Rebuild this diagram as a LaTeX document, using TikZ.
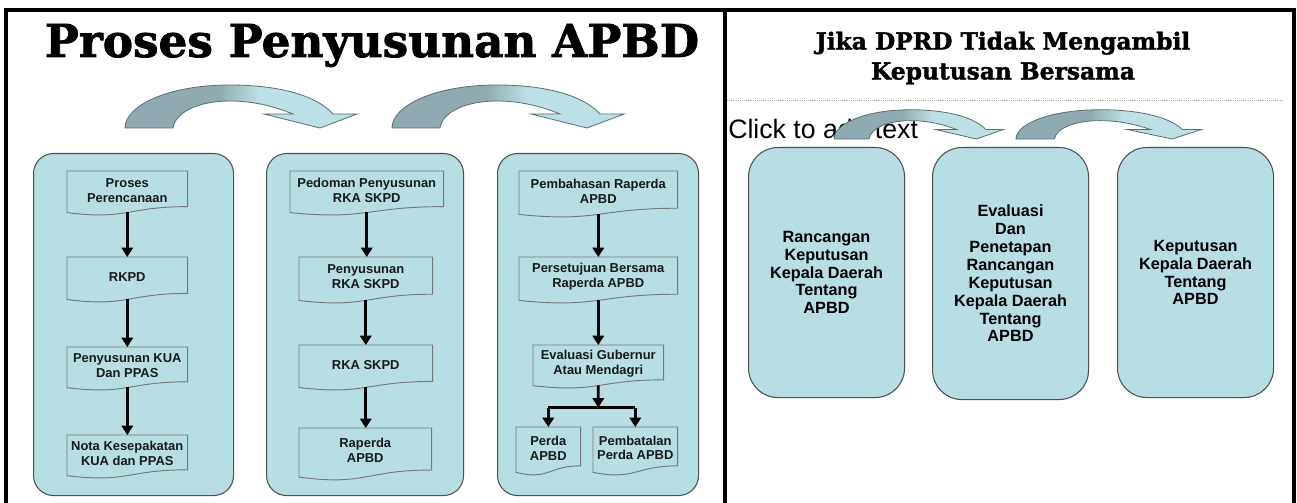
\documentclass[tikz,border=0pt]{standalone}
\usepackage{fontspec}
\usetikzlibrary{arrows.meta,calc}
\newfontfamily\lsans{Liberation Sans}
\newfontfamily\dserif{DejaVu Serif}[FakeBold=1.6]
\definecolor{boxfill}{RGB}{183,222,227}
\definecolor{panelline}{RGB}{80,80,80}
\definecolor{docline}{RGB}{120,120,120}
\definecolor{arrdark}{RGB}{143,170,176}
\definecolor{arrlight}{RGB}{187,224,229}
\definecolor{arrline}{RGB}{90,110,115}
\pgfdeclarehorizontalshading{arrsh}{100bp}{color(0bp)=(arrdark); color(45bp)=(arrdark); color(54bp)=(arrlight); color(100bp)=(arrlight)}
\pgfdeclarelayer{back}
\pgfdeclarelayer{bg}
\pgfsetlayers{back,bg,main}
\tikzset{
  panel/.style={draw=panelline, line width=0.8pt, fill=boxfill, rounded corners=15pt, anchor=north west, inner sep=0pt},
  docbox/.style={inner sep=0pt, anchor=north west},
  docshape/.style={draw=docline, line width=0.7pt, fill=boxfill},
  doctext/.style={font=\lsans\bfseries\fontsize{9.7}{11.2}\selectfont, align=center, inner sep=0pt, text=black!90},
  flow/.style={line width=2.2pt, -{Triangle[width=8.5pt,length=7pt]}},
  rbox/.style={draw=panelline, line width=0.8pt, fill=boxfill, rounded corners=22pt, anchor=north west, align=center, font=\lsans\bfseries\fontsize{12.2}{13.4}\selectfont, inner sep=0pt},
  curv/.style={shading=arrsh, draw=arrline, line width=0.6pt},
  frameline/.style={line width=2.3pt, black, line join=miter}
}
\newcommand\docnode[6]{%
  \pgfmathsetmacro\dw{(#4-#2)*0.75}%
  \pgfmathsetmacro\dh{(#5-#3)*0.75}%
  \node[docbox, minimum width=\dw pt, minimum height=\dh pt] (#1) at (#2,#3) {};
  \node[doctext] (#1t) at ($(#1.north)!0.43!(#1.south)$) {#6};
  \begin{pgfonlayer}{bg}
    \path[docshape] (#1.north west) -- (#1.north east) -- ($(#1.north east)!0.80!(#1.south east)$)
      .. controls ($(#1.north)!0.80!(#1.south)$) and ($(#1.north)!1.107!(#1.south)$) ..
      ($(#1.north west)!0.934!(#1.south west)$) -- cycle;
  \end{pgfonlayer}}
\newcommand\curvarrow[4]{%
  \begin{scope}[shift={(#1,#2)}, xscale=#3, yscale=#4]
    \shade[curv] (0,0) -- (48,0) .. controls (50,-15) and (72,-27) .. (105,-27)
      .. controls (132,-27) and (153,-20) .. (168,-14) -- (139,-14) -- (195,0) -- (232,-14) -- (208,-14)
      .. controls (190,-34) and (150,-43) .. (105,-43) .. controls (42,-43) and (0,-22) .. (0,0) -- cycle;
  \end{scope}}
\begin{document}
\begin{tikzpicture}[x=0.75pt, y=-0.75pt]
\useasboundingbox (0,0) rectangle (1297,503);
\begin{pgfonlayer}{back}
\fill[white] (0,0) rectangle (1297,503);
\end{pgfonlayer}

% ---------- left panel ----------
\node[anchor=base, font=\dserif\bfseries\fontsize{34}{36}\selectfont] (title1) at (372,57) {Proses Penyusunan APBD};

\curvarrow{125}{128}{1}{1}
\curvarrow{392}{128}{1}{1}

\begin{pgfonlayer}{back}
  \node[panel, minimum width=150pt, minimum height=256.5pt] (P1) at (33,153) {};
  \node[panel, minimum width=147.75pt, minimum height=256.5pt] (P2) at (266,153) {};
  \node[panel, minimum width=150.75pt, minimum height=256.5pt] (P3) at (497,153) {};
\end{pgfonlayer}

\docnode{A1}{67}{171}{187}{215}{Proses\\Perencanaan}
\docnode{A2}{67}{257}{187}{302}{RKPD}
\docnode{A3}{67}{347}{187}{390}{Penyusunan KUA\\Dan PPAS}
\docnode{A4}{67}{435}{187}{478}{Nota Kesepakatan\\KUA dan PPAS}

\docnode{B1}{290}{171}{443}{215}{Pedoman Penyusunan\\RKA SKPD}
\docnode{B2}{299}{257}{432}{303}{Penyusunan\\RKA SKPD}
\docnode{B3}{299}{345}{432}{390}{RKA SKPD}
\docnode{B4}{299}{428}{431}{480}{Raperda\\APBD}

\docnode{C1}{519}{171}{677}{217}{Pembahasan Raperda\\APBD}
\docnode{C2}{519}{257}{677}{303}{Persetujuan Bersama\\Raperda APBD}
\docnode{C3}{533}{345}{663}{388}{Evaluasi Gubernur\\Atau Mendagri}
\docnode{C4}{516}{427}{580}{475}{Perda\\APBD}
\docnode{C5}{593}{427}{677}{475}{Pembatalan\\Perda APBD}

\foreach \a/\b in {A1/A2, A2/A3, A3/A4, B1/B2, B2/B3, B3/B4, C1/C2, C2/C3}
  \draw[flow] ($(\a.north)!0.93!(\a.south)$) coordinate (s) -- (s |- \b.north);

\coordinate (jn) at ($(C3.south)+(0,19)$);
\draw[flow] ($(C3.north)!0.93!(C3.south)$) -- (jn);
\draw[line width=2.2pt] (jn -| C4.north) -- (jn -| C5.north);
\draw[flow] (jn -| C4.north) -- (C4.north);
\draw[flow] (jn -| C5.north) -- (C5.north);

% ---------- right panel ----------
\node[align=center, font=\dserif\bfseries\fontsize{17.5}{22.5}\selectfont] (title2) at (1003,58) {Jika DPRD Tidak Mengambil\\Keputusan Bersama};
\draw[gray!70, line width=0.6pt, dash pattern=on 0.8pt off 0.8pt] (727,100) -- (1283,100);
\node[anchor=base west, inner sep=0pt, font=\lsans\fontsize{20}{22}\selectfont] (click) at (728,138) {Click to add text};

\curvarrow{834}{139}{0.73}{0.68}
\curvarrow{1016}{139}{0.80}{0.68}

\node[rbox, minimum width=117pt, minimum height=187.5pt] (R1) at (748,147) {Rancangan\\Keputusan\\Kepala Daerah\\Tentang\\APBD};
\node[rbox, minimum width=117pt, minimum height=189pt] (R2) at (932,147) {Evaluasi\\Dan\\Penetapan\\Rancangan\\Keputusan\\Kepala Daerah\\Tentang\\APBD};
\node[rbox, minimum width=117pt, minimum height=187.5pt] (R3) at (1117,147) {Keputusan\\Kepala Daerah\\Tentang\\APBD};

% ---------- frame ----------
\draw[frameline] (6,503) -- (6,10) -- (1294,10) -- (1294,503);
\draw[frameline] (725,10) -- (725,503);
\end{tikzpicture}
\end{document}
